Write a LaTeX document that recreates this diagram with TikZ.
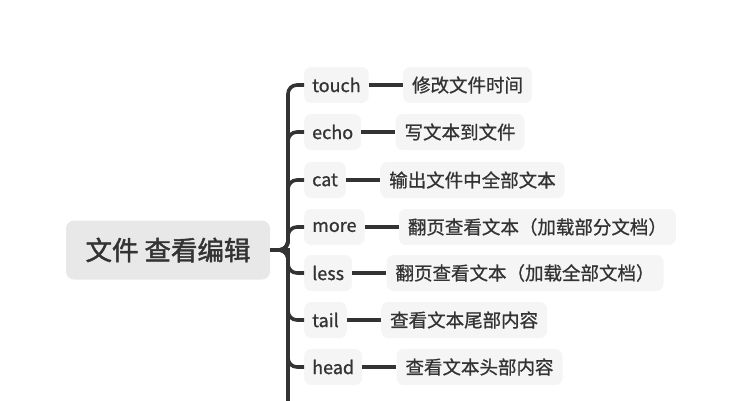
\documentclass[tikz,border=0pt]{standalone}
\usepackage{fontspec}
\setmainfont{Noto Sans CJK SC}[RawFeature={embolden=0.8}]
\newfontfamily\rootfont{Noto Sans CJK SC}[RawFeature={embolden=1.6}]
\usetikzlibrary{positioning}

\definecolor{inkgray}{HTML}{333333}
\definecolor{rootgray}{HTML}{E8E8E8}
\definecolor{boxgray}{HTML}{F5F5F5}

\tikzset{
	rootbox/.style={fill=rootgray, rounded corners=8pt, minimum width=204pt, minimum height=59pt,
		text=inkgray, font=\rootfont\fontsize{26.5}{30}\selectfont},
	cmdbox/.style={fill=boxgray, rounded corners=7pt, minimum height=36pt, inner xsep=8pt,
		text=inkgray, font=\fontsize{18}{22}\selectfont},
	descbox/.style={cmdbox, inner xsep=9pt, font=\fontsize{18.5}{22}\selectfont},
	link/.style={draw=inkgray, line width=3.6pt},
}

\begin{document}
\begin{tikzpicture}[x=1pt, y=-1pt]
	\useasboundingbox (0,0) rectangle (737,400);
	\clip (0,0) rectangle (737,400);

	\node[rootbox] (root) at (168,250) {文件 查看编辑};
	\coordinate (fork) at (288,250);
	\coordinate (next) at (288,420);

	\node[cmdbox, anchor=west] (c1) at (304,85) {touch};
	\node[cmdbox, anchor=west] (c2) at (304,132) {echo};
	\node[cmdbox, anchor=west] (c3) at (304,180) {cat};
	\node[cmdbox, anchor=west] (c4) at (304,227) {more};
	\node[cmdbox, anchor=west] (c5) at (304,273) {less};
	\node[cmdbox, anchor=west] (c6) at (304,320) {tail};
	\node[cmdbox, anchor=west] (c7) at (304,367) {head};

	\node[descbox, right=34pt of c1] (d1) {修改文件时间};
	\node[descbox, right=34pt of c2] (d2) {写文本到文件};
	\node[descbox, right=34pt of c3] (d3) {输出文件中全部文本};
	\node[descbox, right=34pt of c4] (d4) {翻页查看文本（加载部分文档）};
	\node[descbox, right=34pt of c5] (d5) {翻页查看文本（加载全部文档）};
	\node[descbox, right=34pt of c6] (d6) {查看文本尾部内容};
	\node[descbox, right=34pt of c7] (d7) {查看文本头部内容};

	% spine from the root out to the commands
	\draw[link] (root.east) -- (fork) -- (next);
	\draw[link, rounded corners=9pt] (root.east) -- (fork) |- (c1.west);
	\draw[link, rounded corners=9pt] (root.east) -- (fork) |- (c2.west);
	\draw[link, rounded corners=9pt] (root.east) -- (fork) |- (c3.west);
	\draw[link, rounded corners=9pt] (root.east) -- (fork) |- (c4.west);
	\draw[link, rounded corners=9pt] (root.east) -- (fork) |- (c5.west);
	\draw[link, rounded corners=9pt] (root.east) -- (fork) |- (c6.west);
	\draw[link, rounded corners=9pt] (root.east) -- (fork) |- (c7.west);

	\draw[link] (c1) -- (d1);
	\draw[link] (c2) -- (d2);
	\draw[link] (c3) -- (d3);
	\draw[link] (c4) -- (d4);
	\draw[link] (c5) -- (d5);
	\draw[link] (c6) -- (d6);
	\draw[link] (c7) -- (d7);
\end{tikzpicture}
\end{document}
